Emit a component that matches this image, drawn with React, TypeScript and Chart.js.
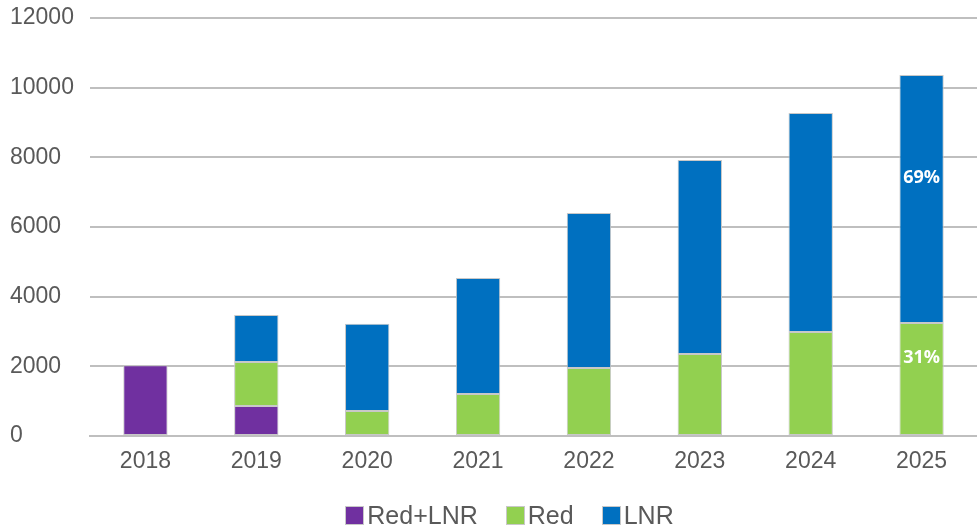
import React, { useEffect, useRef } from "react";
import { Chart, registerables } from "chart.js";

Chart.register(...registerables);

const categories = ["2018", "2019", "2020", "2021", "2022", "2023", "2024", "2025"];
const redLnr = [2030, 860, 0, 0, 0, 0, 0, 0];
const red = [0, 1265, 720, 1206, 1952, 2354, 2986, 3244];
const lnr = [0, 1350, 2500, 3330, 4450, 5570, 6290, 7120];
const yTicks = [0, 2000, 4000, 6000, 8000, 10000, 12000];
const seriesNames = ["Red+LNR", "Red", "LNR"];
const seriesColors = ["#7030A0", "#92D050", "#0070C0"];
const pctLabels: { series: number; index: number; text: string }[] = [
  { series: 2, index: 7, text: "69%" },
  { series: 1, index: 7, text: "31%" },
];

const FONT = "'Liberation Sans', Arial, sans-serif";

const labelPlugin = {
  id: "pctLabels",
  afterDatasetsDraw(chart: any) {
    const ctx = chart.ctx;
    ctx.save();
    ctx.fillStyle = "#ffffff";
    ctx.font = "bold 18px 'Open Sans', sans-serif";
    ctx.textAlign = "center";
    ctx.textBaseline = "middle";
    pctLabels.forEach((l) => {
      const el = chart.getDatasetMeta(l.series).data[l.index];
      if (!el) return;
      const cy = (el.y + el.base) / 2 - 21;
      ctx.fillText(l.text, el.x, cy);
    });
    ctx.restore();
  },
};

export default function App() {
  const ref = useRef<HTMLCanvasElement>(null);
  useEffect(() => {
    document.body.style.margin = "0";
    const ds = (i: number, data: number[]) => ({
      label: seriesNames[i],
      data,
      backgroundColor: seriesColors[i],
      borderColor: "#c8c8c8",
      borderWidth: 1,
      borderSkipped: false,
      barPercentage: 0.4,
      categoryPercentage: 1,
    });
    const chart = new Chart(ref.current!, {
      type: "bar",
      data: {
        labels: categories,
        datasets: [ds(0, redLnr), ds(1, red), ds(2, lnr)],
      },
      options: {
        animation: false,
        responsive: false,
        layout: { padding: { top: 18, left: 10, right: 0, bottom: 0 } },
        plugins: {
          tooltip: { enabled: false },
          legend: { display: false },
        },
        scales: {
          x: {
            stacked: true,
            grid: { display: false, drawTicks: false },
            border: { display: true, color: "#bfbfbf", width: 2 },
            ticks: {
              color: "#595959",
              padding: 12,
              font: { size: 23, family: FONT },
            },
            afterFit: (axis: any) => {
              axis.height = 92;
              axis.paddingLeft = 0;
              axis.paddingRight = 0;
            },
          },
          y: {
            stacked: true,
            min: 0,
            max: 12000,
            afterBuildTicks: (axis: any) => {
              axis.ticks = yTicks.map((v) => ({ value: v }));
            },
            afterFit: (axis: any) => {
              axis.width = 80;
              axis.paddingTop = 0;
              axis.paddingBottom = 0;
            },
            grid: { color: "#bfbfbf", lineWidth: 2, drawTicks: false },
            border: { display: false },
            ticks: {
              color: "#595959",
              padding: 12,
              crossAlign: "far",
              callback: (v: any) => String(v),
              font: { size: 23, family: FONT },
            },
          },
        },
      },
      plugins: [labelPlugin],
    } as any);
    return () => chart.destroy();
  }, []);
  return (
    <div style={{ position: "relative", width: 977, height: 528 }}>
      <canvas ref={ref} width={977} height={528} style={{ display: "block" }} />
      <div
        style={{
          position: "absolute",
          left: 0,
          right: 0,
          top: 503,
          display: "flex",
          justifyContent: "center",
          alignItems: "center",
          gap: 28,
          fontFamily: FONT,
          fontSize: 25,
          color: "#595959",
          lineHeight: "25px",
          paddingLeft: 42,
        }}
      >
        {seriesNames.map((n, i) => (
          <div key={n} style={{ display: "flex", alignItems: "center", gap: 3 }}>
            <span
              style={{
                display: "inline-block",
                width: 19,
                height: 19,
                background: seriesColors[i],
                border: "1px solid #c8c8c8",
                boxSizing: "border-box",
              }}
            />
            <span>{n}</span>
          </div>
        ))}
      </div>
    </div>
  );
}
